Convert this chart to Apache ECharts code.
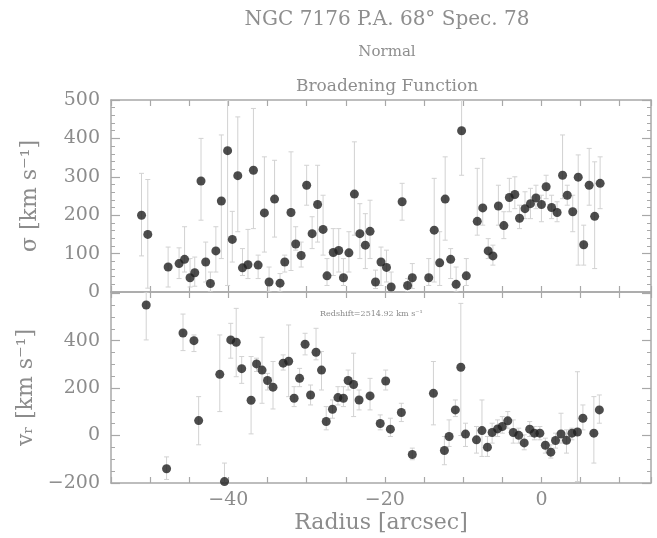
<!DOCTYPE html>
<html><head><meta charset="utf-8">
<script src="https://cdn.jsdelivr.net/npm/echarts@6/dist/echarts.min.js"></script>
<style>html,body{margin:0;padding:0;background:#fff}#c{width:657px;height:538px}</style>
</head><body><div id="c"></div>
<script>
// ---- sigma panel (Broadening Function) ----
const sigmaRadius = [-51.1,-50.3,-47.7,-46.3,-45.6,-44.9,-44.3,-43.5,-42.9,-42.3,-41.6,-40.9,-40.1,-39.5,-38.8,-38.2,-37.5,-36.8,-36.2,-35.4,-34.8,-34.1,-33.4,-32.8,-32.0,-31.4,-30.7,-30.0,-29.3,-28.6,-27.9,-27.4,-26.6,-25.9,-25.3,-24.6,-23.9,-23.2,-22.5,-21.9,-21.2,-20.5,-19.8,-19.2,-17.8,-17.1,-16.5,-14.4,-13.7,-13.0,-12.3,-11.6,-10.9,-10.2,-9.6,-8.2,-7.5,-6.8,-6.2,-5.5,-4.8,-4.1,-3.4,-2.8,-2.1,-1.4,-0.7,0.0,0.6,1.3,2.0,2.7,3.3,4.0,4.7,5.4,6.1,6.8,7.5];
const sigmaValues = [200,150,65,74,85,37,50,289,78,22,107,237,368,137,303,63,71,317,70,206,26,242,23,78,207,125,95,278,152,228,163,42,103,108,37,102,255,152,122,158,26,78,64,13,235,17,37,37,161,76,242,85,20,420,42,184,219,107,94,224,173,246,254,192,217,230,245,228,274,220,207,304,252,209,299,123,278,197,283];
const sigmaLow = [94,10,13,35,52,13,15,187,26,0,52,87,17,78,157,43,35,165,35,104,0,143,0,52,56,109,65,226,113,130,96,17,43,52,17,52,148,87,61,87,9,17,26,0,187,0,9,17,26,17,135,35,0,304,17,148,174,87,70,174,139,209,217,165,191,191,217,183,243,191,183,243,226,157,70,70,226,61,217];
const sigmaHigh = [309,293,117,115,170,87,91,400,130,52,170,409,500,210,456,113,163,478,96,352,65,343,48,96,365,170,130,330,196,330,252,87,165,165,87,157,391,230,204,239,57,117,109,52,283,35,74,87,296,157,352,113,65,500,87,322,348,139,122,278,209,296,300,226,261,270,278,252,304,252,235,409,278,252,357,174,374,339,352];

// ---- radial velocity panel ----
const vRadius = [-50.5,-47.9,-45.8,-44.4,-43.8,-41.1,-40.5,-39.7,-39.0,-38.3,-37.1,-36.4,-35.7,-35.0,-34.3,-33.0,-32.3,-31.6,-30.9,-30.2,-29.5,-28.8,-28.1,-27.5,-26.7,-26.0,-25.3,-24.7,-24.0,-23.3,-21.9,-20.6,-19.9,-19.3,-17.9,-16.5,-13.8,-12.4,-11.8,-11.0,-10.3,-9.7,-8.3,-7.6,-6.9,-6.3,-5.6,-5.0,-4.3,-3.6,-2.9,-2.2,-1.5,-0.9,-0.2,0.5,1.2,1.8,2.5,3.2,3.9,4.6,5.3,6.7,7.4];
const vValues = [550,-140,432,400,63,258,-194,403,393,282,149,302,276,232,204,305,313,157,241,385,171,351,276,59,111,160,157,232,215,150,167,51,230,27,97,-80,178,-63,-4,108,288,6,-18,21,-49,13,28,38,62,13,1,-31,27,10,10,-41,-70,-21,7,-20,10,15,73,10,108];
const vLow = [403,-185,358,354,-39,101,-240,326,248,220,7,270,136,192,112,276,164,122,206,340,129,319,192,24,73,129,122,192,80,108,108,24,192,-4,59,-102,45,-123,-46,80,0,-46,-74,-88,-88,-32,-4,10,31,-32,-32,-60,-4,-18,-18,-74,-95,-53,-32,-74,-18,-194,24,-116,52];
const vHigh = [605,-90,512,424,164,424,-116,473,536,333,333,326,414,262,312,340,466,206,283,431,213,452,354,122,150,206,206,276,347,192,241,87,276,73,136,-53,312,-4,66,150,557,52,38,150,-4,52,66,80,101,66,31,3,59,38,38,-11,-39,10,94,24,31,269,129,164,171];

// ---- ticks / text ----
const sigmaTicks = [0,100,200,300,400,500];
const vTicks = [-200,0,200,400];
const radiusTickLabels = [-40,-20,0];
const titleText = 'NGC 7176 P.A. 68° Spec. 78';
const subTitle1 = 'Normal';
const subTitle2 = 'Broadening Function';
const redshiftText = 'Redshift=2514.92 km s⁻¹';

const FONT = 'DejaVu Serif';
const AX = '#a8a8a8';
const TXT = '#8c8c8c';

const chart = echarts.init(document.getElementById('c'), null, {renderer:'canvas'});

function toMinus(v){ return String(v).replace('-', '−'); }

function xAxisDef(gridIndex, position, showLabels){
  return {
    type:'value', gridIndex, position, min:-55, max:14, interval:5,
    axisLine:{show:true, onZero:false, lineStyle:{color:AX, width:1.5}},
    axisTick:{show:true, inside:true, length:6, lineStyle:{color:AX, width:1.2}},
    splitLine:{show:false},
    axisLabel:{show:showLabels, margin:8, fontFamily:FONT, fontSize:19, color:TXT,
      formatter:(v)=> radiusTickLabels.includes(v) ? toMinus(v) : ''},
    name: showLabels ? 'Radius [arcsec]' : '',
    nameLocation:'middle', nameGap:29,
    nameTextStyle:{fontFamily:FONT, fontSize:22, color:TXT}
  };
}
function yAxisDef(gridIndex, position, showLabels, min, max, interval, split, ticks, name){
  return {
    type:'value', gridIndex, position, min, max, interval,
    axisLine:{show:true, onZero:false, lineStyle:{color:AX, width:1.5}},
    axisTick:{show:true, inside:true, length:9, lineStyle:{color:AX, width:1.2}},
    minorTick:{show:true, splitNumber:split, length:4, lineStyle:{color:AX, width:1}},
    splitLine:{show:false},
    axisLabel:{show:showLabels, margin:11, fontFamily:FONT, fontSize:19, color:TXT,
      showMaxLabel: true,
      formatter:(v)=> ticks.includes(v) ? toMinus(v) : ''},
    name: showLabels ? name : '',
    nameLocation:'middle', nameGap:70,
    nameTextStyle:{fontFamily:FONT, fontSize:22, color:TXT}
  };
}

function errRender(params, api){
  const x = api.value(0), lo = api.value(1), hi = api.value(2);
  const a = api.coord([x, lo]), b = api.coord([x, hi]);
  const w = 2.5;
  const st = {stroke:'#d2d2d2', lineWidth:1};
  return {type:'group', children:[
    {type:'line', shape:{x1:a[0], y1:a[1], x2:b[0], y2:b[1]}, style:st},
    {type:'line', shape:{x1:a[0]-w, y1:a[1], x2:a[0]+w, y2:a[1]}, style:st},
    {type:'line', shape:{x1:b[0]-w, y1:b[1], x2:b[0]+w, y2:b[1]}, style:st}
  ]};
}

const sigmaErr = sigmaRadius.map((x,i)=>[x, sigmaLow[i], sigmaHigh[i]]);
const sigmaPts = sigmaRadius.map((x,i)=>[x, sigmaValues[i]]);
const vErr = vRadius.map((x,i)=>[x, vLow[i], vHigh[i]]);
const vPts = vRadius.map((x,i)=>[x, vValues[i]]);

const option = {
  animation:false,
  backgroundColor:'#ffffff',
  grid:[
    {left:111, top:100, width:540, height:192},
    {left:111, top:292, width:540, height:191}
  ],
  xAxis:[
    xAxisDef(0,'bottom',false), xAxisDef(0,'top',false),
    xAxisDef(1,'bottom',true), xAxisDef(1,'top',false)
  ],
  yAxis:[
    yAxisDef(0,'left',true,0,500,100,5,sigmaTicks,'σ [km s⁻¹]'),
    yAxisDef(0,'right',false,0,500,100,5,sigmaTicks,''),
    yAxisDef(1,'left',true,-200,605,200,4,vTicks,'vᵣ [km s⁻¹]'),
    yAxisDef(1,'right',false,-200,605,200,4,vTicks,'')
  ],
  graphic:[
    {type:'text', x:387, y:20, style:{text:titleText, fontFamily:FONT, fontSize:20, fill:'#8e8e8e', align:'center', verticalAlign:'middle'}},
    {type:'text', x:387, y:52, style:{text:subTitle1, fontFamily:FONT, fontSize:15, fill:'#8e8e8e', align:'center', verticalAlign:'middle'}},
    {type:'text', x:387, y:87, style:{text:subTitle2, fontFamily:FONT, fontSize:17, fill:'#8e8e8e', align:'center', verticalAlign:'middle'}},
    {type:'text', x:320, y:314, style:{text:redshiftText, fontFamily:FONT, fontSize:8, fill:'#8a8a8a', align:'left', verticalAlign:'middle'}}
  ],
  series:[
    {type:'custom', xAxisIndex:0, yAxisIndex:0, data:sigmaErr, renderItem:errRender, clip:true, z:1},
    {type:'scatter', xAxisIndex:0, yAxisIndex:0, data:sigmaPts, symbol:'circle', symbolSize:9,
      itemStyle:{color:'#1f1f1f'}, z:3},
    {type:'custom', xAxisIndex:2, yAxisIndex:2, data:vErr, renderItem:errRender, clip:true, z:1},
    {type:'scatter', xAxisIndex:2, yAxisIndex:2, data:vPts, symbol:'circle', symbolSize:9,
      itemStyle:{color:'#1f1f1f'}, z:3}
  ]
};
chart.setOption(option);
</script></body></html>
